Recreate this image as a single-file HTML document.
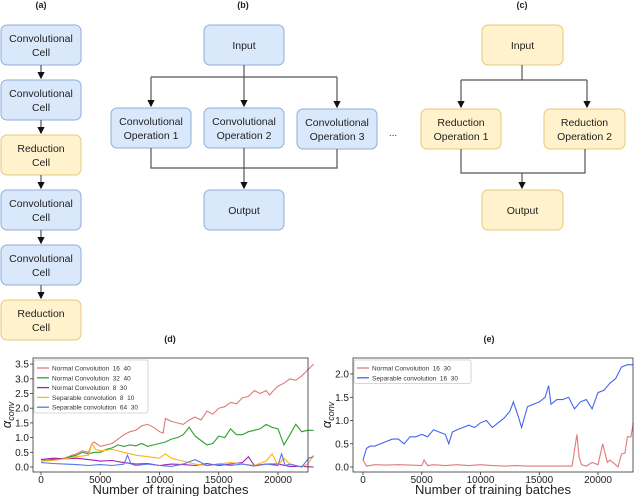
<!DOCTYPE html>
<html><head><meta charset="utf-8"><style>
body{margin:0;background:#fff;width:640px;height:496px;overflow:hidden;font-family:"Liberation Sans",sans-serif}
svg text{font-family:"Liberation Sans",sans-serif;white-space:pre}
</style></head><body>
<svg id="s" width="640" height="496" viewBox="0 0 640 496" xmlns="http://www.w3.org/2000/svg">
<defs><marker id="ar" markerWidth="6" markerHeight="6" refX="5" refY="3" orient="auto"><path d="M0,0L6,3L0,6z" fill="#111"/></marker></defs>
<g id="diag"></g>
<g id="chartD"></g>
<g id="chartE"></g>
</svg>
<script>
const NS="http://www.w3.org/2000/svg";
function mk(p,t,a,txt){const e=document.createElementNS(NS,t);for(const k in a)e.setAttribute(k,a[k]);if(txt!==undefined)e.textContent=txt;p.appendChild(e);return e;}
const D=document.getElementById('diag');
const BLUE=['#dae8fc','#8eaedc'],YEL=['#fff2cc','#e6c97a'];
function box(x,y,w,h,c,lines,name){const g=mk(D,'g',{});


mk(g,'rect',{x:x,y:y,width:w,height:h,rx:6,fill:c[0],stroke:c[1],'stroke-width':1});
const n=lines.length;lines.forEach((l,i)=>{mk(g,'text',{x:x+w/2,y:y+h/2+4+(i-(n-1)/2)*14,'text-anchor':'middle','font-size':10.5,fill:'#222'},l);});}
function ln(pts,arrow){const e=mk(D,'polyline',{points:pts,fill:'none',stroke:'#555','stroke-width':1.2});if(arrow)e.setAttribute('marker-end','url(#ar)');}
function ttl(x,t){const e=mk(D,'text',{x:x,y:8,'text-anchor':'middle','font-size':9,'font-weight':'bold',fill:'#222'},t);

}
ttl(41,'(a)');ttl(243,'(b)');ttl(522,'(c)');
const aCells=[['Convolutional','Cell',BLUE],['Convolutional','Cell',BLUE],['Reduction','Cell',YEL],['Convolutional','Cell',BLUE],['Convolutional','Cell',BLUE],['Reduction','Cell',YEL]];
aCells.forEach((c,i)=>{const y=25+i*55;box(1,y,80,40,c[2],[c[0],c[1]],'cell-'+(i+1));if(i<5)ln('41,'+(y+40)+' 41,'+(y+53),true);});
box(204,25,80,40,BLUE,['Input'],'b-input');
ln('244,65 244,106',true);ln('151,77 337,77',false);ln('151,77 151,106',true);ln('337,77 337,107',true);
box(111,108,80,40,BLUE,['Convolutional','Operation 1'],'conv-op-1');
box(204,108,80,40,BLUE,['Convolutional','Operation 2'],'conv-op-2');
box(297,109,80,40,BLUE,['Convolutional','Operation 3'],'conv-op-3');
ln('151,148 151,168 337,168 337,149',false);ln('244,148 244,188',true);
box(204,190,80,40,BLUE,['Output'],'b-output');
mk(D,'text',{x:393,y:136,'text-anchor':'middle','font-size':10,fill:'#333'},'...');
box(482,25,81,40,YEL,['Input'],'c-input');
ln('522,65 522,80',false);ln('461,80 587,80',false);ln('461,80 461,107',true);ln('587,80 587,107',true);
box(421,109,80,40,YEL,['Reduction','Operation 1'],'red-op-1');
box(544,109,81,40,YEL,['Reduction','Operation 2'],'red-op-2');
ln('461,149 461,173 585,173 585,149',false);ln('522,173 522,188',true);
box(482,190,81,40,YEL,['Output'],'c-output');

const dRedX=[0,500,1000,1500,2000,2500,3000,3500,4000,4300,4500,5000,5500,6000,6500,7000,7500,8000,8500,9000,9500,10000,10300,10500,11000,11500,12000,12500,13000,13500,14000,14500,15000,15500,16000,16500,17000,17500,18000,18500,19000,19300,19500,20000,20500,21000,21500,22000,22500,23000];
const dRedY=[0.25,0.22,0.28,0.25,0.3,0.38,0.45,0.55,0.5,0.8,0.85,0.7,0.75,0.8,0.95,1.1,1.2,1.25,1.4,1.45,1.35,1.2,1.15,1.65,1.55,1.5,1.45,1.6,1.7,1.6,1.9,1.8,2.0,2.05,2.2,2.15,2.35,2.4,2.6,2.5,2.6,2.45,2.55,2.75,2.85,3.0,2.95,3.1,3.3,3.5];
const dGreenX=[0,1000,2000,2500,3000,3500,4000,4500,5000,5500,6000,6500,7000,7500,8000,8500,9000,9500,10000,10500,11000,11500,12000,12500,13000,13500,14000,14500,15000,15500,16000,16500,17000,17500,18000,18500,19000,19500,20000,20500,21000,21500,22000,22500,23000];
const dGreenY=[0.2,0.25,0.3,0.35,0.4,0.5,0.45,0.5,0.5,0.6,0.65,0.75,0.7,0.75,0.72,0.8,0.7,0.75,0.8,0.85,0.95,1.0,1.1,1.35,1.05,0.9,0.75,0.8,1.05,1.0,1.3,1.1,1.1,1.2,1.25,1.3,1.45,1.35,1.3,0.75,1.1,1.45,1.2,1.25,1.25];
const dPurpleX=[0,1000,2000,3000,4000,5000,6000,7000,8000,9000,10000,11000,12000,13000,14000,15000,16000,17000,17500,18000,19000,20000,21000,22000,23000];
const dPurpleY=[0.25,0.3,0.28,0.3,0.25,0.2,0.22,0.15,0.1,0.12,0.05,0.1,0.08,0.05,0.12,0.05,0.1,0.15,0.35,0.05,0.1,0.1,0.02,0.02,0.0];
const dOrangeX=[0,1000,2000,3000,4000,4300,4600,5000,6000,7000,8000,9000,10000,10500,11000,12000,12500,13000,14000,15000,16000,17000,18000,19000,19500,20000,20500,21000,22000,22500,23000];
const dOrangeY=[0.2,0.22,0.28,0.35,0.4,0.8,0.6,0.55,0.6,0.5,0.4,0.35,0.3,0.45,0.3,0.2,0.15,0.1,0.05,0.1,0.15,0.1,0.05,0.2,0.45,0.05,0.3,0.1,0.0,0.1,0.4];
const dBlueX=[0,1000,2000,3000,4000,5000,6000,7000,7300,7600,8000,9000,10000,11000,12000,13000,14000,15000,16000,17000,18000,19000,20000,20300,20600,21000,22000,22600,23000];
const dBlueY=[0.15,0.12,0.1,0.08,0.05,0.08,0.05,0.1,0.4,0.1,0.05,0.1,0.05,0.02,0.1,0.25,0.05,0.1,0.05,0.1,0.03,0.1,0.05,0.45,0.05,0.1,0.0,0.3,0.35];
const eBlueX=[0,300,600,1000,1500,2000,2500,3000,3500,4000,4500,5000,5500,6000,6500,7000,7300,7600,8000,8500,9000,9500,10000,10500,11000,11500,12000,12500,12800,13200,13500,14000,14500,15000,15500,15800,16000,16500,17000,17500,18000,18500,19000,19500,20000,20500,21000,21500,22000,22500,23000];
const eBlueY=[0.15,0.4,0.45,0.45,0.5,0.55,0.6,0.6,0.5,0.65,0.65,0.7,0.65,0.8,0.75,0.7,0.5,0.75,0.8,0.85,0.9,0.85,0.95,1.0,0.85,0.95,1.05,1.2,1.4,1.1,0.85,1.3,1.35,1.4,1.5,1.75,1.35,1.45,1.45,1.5,1.25,1.4,1.45,1.25,1.6,1.65,1.8,1.9,2.15,2.2,2.2];
const eRedX=[0,300,1000,2000,3000,4000,5000,5200,5500,6000,7000,8000,9000,10000,11000,12000,13000,14000,15000,16000,17000,17800,18200,18400,18600,19000,19500,20000,20400,20600,20800,21000,21500,21700,22000,22300,22500,22800,23000];
const eRedY=[0.15,0.02,0.05,0.04,0.05,0.04,0.03,0.15,0.03,0.05,0.03,0.05,0.03,0.05,0.03,0.02,0.03,0.02,0.02,0.02,0.02,0.02,0.7,0.2,0.05,0.02,0.1,0.05,0.5,0.3,0.1,0.15,0.05,0.0,0.28,0.3,0.65,0.65,0.95];
const dYTicks=[0,0.5,1,1.5,2,2.5,3,3.5];
const eYTicks=[0,0.5,1,1.5,2];
const xTicks=[0,5000,10000,15000,20000];
const dSeries=[['Normal Convolution  16  40',dRedX,dRedY,'#e07a7a'],['Normal Convolution  32  40',dGreenX,dGreenY,'#2ca02c'],['Normal Convolution  8  30',dPurpleX,dPurpleY,'#a020b0'],['Separable convolution  8  10',dOrangeX,dOrangeY,'#ffb31a'],['Separable convolution  64  30',dBlueX,dBlueY,'#5577ee']];
const eSeries=[['Normal Convolution  16  30',eRedX,eRedY,'#e07a7a'],['Separable convolution  16  30',eBlueX,eBlueY,'#4466ee']];

function chart(G,cfg){
 const xs=v=>cfg.x0+v*(cfg.x20-cfg.x0)/20000, ys=v=>cfg.y0-v*cfg.ppu;
 cfg.series.forEach(s=>{const pts=s[1].map((x,i)=>xs(x).toFixed(1)+','+ys(s[2][i]).toFixed(1)).join(' ');
  const p=mk(G,'polyline',{points:pts,fill:'none',stroke:s[3],'stroke-width':1.1});
  
  });
 const f=mk(G,'rect',{x:cfg.L,y:cfg.T,width:cfg.R-cfg.L,height:cfg.B-cfg.T,fill:'none',stroke:'#333','stroke-width':0.8});
 
 
 cfg.yt.forEach(v=>{const y=ys(v);mk(G,'line',{x1:cfg.L-3,x2:cfg.L,y1:y,y2:y,stroke:'#333','stroke-width':0.8});
  const t=mk(G,'text',{x:cfg.L-4,y:y+3.5,'text-anchor':'end','font-size':10,fill:'#222'},v.toFixed(1));
  
  });
 xTicks.forEach(v=>{const x=xs(v);mk(G,'line',{x1:x,x2:x,y1:cfg.B,y2:cfg.B+3,stroke:'#333','stroke-width':0.8});
  const t=mk(G,'text',{x:x,y:cfg.B+11,'text-anchor':'middle','font-size':10,fill:'#222'},String(v));
  
  });
 const xl=mk(G,'text',{x:(cfg.L+cfg.R)/2,y:494,'text-anchor':'middle','font-size':13,fill:'#222'},'Number of training batches');
 
 
 const yl=mk(G,'text',{x:0,y:0,'text-anchor':'middle','font-size':13,'font-style':'italic',fill:'#222',transform:'translate('+(cfg.L-cfg.yo)+','+((cfg.T+cfg.B)/2)+') rotate(-90)'});
 
 
 yl.textContent='α';mk(yl,'tspan',{'font-size':9,dy:3},'conv');
 const pt=mk(G,'text',{x:cfg.pl,y:342,'text-anchor':'middle','font-size':9,'font-weight':'bold',fill:'#222'},cfg.title);
 
 
 const lg=mk(G,'g',{});
 
 
 mk(lg,'rect',{x:cfg.L+1,y:cfg.T+2,width:cfg.lw,height:cfg.series.length*9.8+4,rx:2,fill:'#fff','fill-opacity':0.85,stroke:'#ccc','stroke-width':0.8});
 cfg.series.forEach((s,i)=>{const y=cfg.T+10+i*9.8;
  const e=mk(lg,'g',{});
  
  
  mk(e,'line',{x1:cfg.L+4,x2:cfg.L+16,y1:y,y2:y,stroke:s[3],'stroke-width':1.3});
  mk(e,'text',{x:cfg.L+19,y:y+2.5,'font-size':6.5,fill:'#333'},s[0]);});
}
chart(document.getElementById('chartD'),{x0:41,x20:278,y0:467,ppu:29.4,L:33,R:308,T:358,B:472,yt:dYTicks,series:dSeries,title:'(d)',pl:170,lw:114,yo:22});
chart(document.getElementById('chartE'),{x0:363,x20:598,y0:467,ppu:46.5,L:353,R:633,T:358,B:472,yt:eYTicks,series:eSeries,title:'(e)',pl:489,lw:117,yo:22});
</script>
</body></html>
